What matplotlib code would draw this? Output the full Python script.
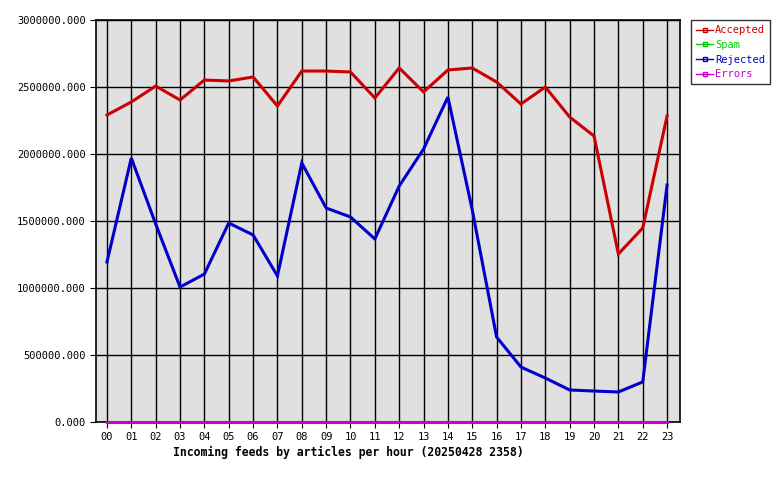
import matplotlib

matplotlib.use("Agg")
import matplotlib.pyplot as plt
from matplotlib.ticker import FuncFormatter, MultipleLocator

hours = ["00", "01", "02", "03", "04", "05", "06", "07", "08", "09", "10", "11",
         "12", "13", "14", "15", "16", "17", "18", "19", "20", "21", "22", "23"]

accepted = [2291000, 2388000, 2507000, 2403000, 2552000, 2545000, 2575000, 2358000,
            2619000, 2619000, 2612000, 2418000, 2642000, 2463000, 2627000, 2642000,
            2537000, 2373000, 2500000, 2276000, 2134000, 1254000, 1448000, 2284000]
spam = [0] * 24
rejected = [1194000, 1970000, 1478000, 1007000, 1104000, 1485000, 1396000, 1090000,
            1933000, 1597000, 1530000, 1366000, 1761000, 2037000, 2425000, 1582000,
            634000, 410000, 328000, 239000, 231000, 224000, 299000, 1769000]
errors = [0] * 24

plt.rcParams["font.family"] = "DejaVu Sans Mono"

fig = plt.figure(figsize=(7.8, 4.8), dpi=100)
ax = fig.add_axes([96 / 780, 58 / 480, 584 / 780, 402 / 480])
ax.set_facecolor("#e0e0e0")

x = list(range(len(hours)))
series = [
    ("Accepted", accepted, "#cc0000"),
    ("Spam", spam, "#00cc00"),
    ("Rejected", rejected, "#0000cc"),
    ("Errors", errors, "#cc00cc"),
]
handles = []
for name, vals, col in series:
    ax.plot(x, vals, color=col, lw=2.2, solid_joinstyle="miter", zorder=4,
            clip_on=False)
    # muestra de leyenda: línea fina con un cuadradito
    h, = ax.plot([], [], color=col, lw=1, marker="s", ms=2.5, mfc="none",
                 mec=col, label=name)
    handles.append(h)

ax.set_xlim(-0.45, 23.53)
ax.set_ylim(0, 3000000)
ax.set_xticks(x)
ax.set_xticklabels(hours)
ax.yaxis.set_major_locator(MultipleLocator(500000))
ax.yaxis.set_major_formatter(FuncFormatter(lambda v, p: f"{v:.3f}"))
ax.grid(True, color="black", lw=1)
ax.set_axisbelow(True)
ax.tick_params(axis="both", labelsize=7.5, length=4, color="black")
for sp in ax.spines.values():
    sp.set_linewidth(1.2)

fig.text(348 / 780, 1 - 452 / 480,
         "Incoming feeds by articles per hour (20250428 2358)",
         fontsize=8.3, fontweight="bold", ha="center", va="center")

leg = fig.legend(handles=handles, loc="upper left",
                 bbox_to_anchor=(691 / 780, 1 - 20 / 480), fontsize=7.5,
                 frameon=True, fancybox=False, edgecolor="black",
                 handlelength=1.6, handletextpad=0.2, borderpad=0.5,
                 labelspacing=0.45, borderaxespad=0)
leg.get_frame().set_linewidth(1)
for t, (_, _, col) in zip(leg.get_texts(), series):
    t.set_color(col)

fig.savefig("out.png", dpi=100)
